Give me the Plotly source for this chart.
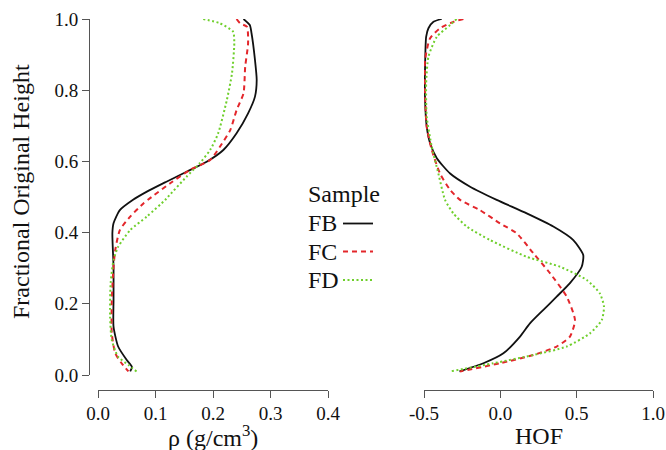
import plotly.graph_objects as go

# Fractional original height (shared vertical coordinate per profile)
# --- Density profiles, rho (g/cm^3) ---
rho_fb_h = [1.0, 0.983, 0.96, 0.885, 0.829, 0.782, 0.735, 0.679, 0.632, 0.599, 0.571, 0.543, 0.515,
            0.492, 0.463, 0.426, 0.398, 0.304, 0.211, 0.136, 0.080, 0.042, 0.023, 0.01]
rho_fb = [0.253, 0.264, 0.267, 0.273, 0.276, 0.273, 0.261, 0.241, 0.218, 0.189, 0.154, 0.119, 0.085,
          0.061, 0.038, 0.027, 0.025, 0.027, 0.027, 0.027, 0.035, 0.050, 0.059, 0.056]

rho_fc_h = [1.0, 0.988, 0.978, 0.932, 0.866, 0.791, 0.744, 0.688, 0.641, 0.604, 0.576, 0.538, 0.496,
            0.482, 0.445, 0.407, 0.351, 0.304, 0.211, 0.117, 0.061, 0.033, 0.01]
rho_fc = [0.241, 0.247, 0.259, 0.261, 0.256, 0.253, 0.241, 0.230, 0.212, 0.195, 0.160, 0.125, 0.090,
          0.079, 0.056, 0.038, 0.030, 0.027, 0.024, 0.024, 0.030, 0.041, 0.053]

rho_fd_h = [1.0, 0.988, 0.964, 0.932, 0.847, 0.772, 0.679, 0.632, 0.595, 0.557, 0.501,
            0.492, 0.445, 0.407, 0.360, 0.323, 0.258, 0.164, 0.098, 0.051, 0.028, 0.01]
rho_fd = [0.183, 0.212, 0.235, 0.237, 0.233, 0.224, 0.209, 0.195, 0.177, 0.154, 0.122,
          0.117, 0.085, 0.056, 0.035, 0.027, 0.022, 0.021, 0.024, 0.035, 0.053, 0.067]

# --- HOF profiles ---
hof_fb_h = [1.0, 0.992, 0.974, 0.950, 0.866, 0.772, 0.697, 0.651, 0.609, 0.566, 0.529, 0.492,
            0.454, 0.417, 0.379, 0.337, 0.304, 0.258, 0.220, 0.183, 0.145, 0.108, 0.061, 0.033, 0.01]
hof_fb = [-0.384, -0.438, -0.471, -0.486, -0.493, -0.493, -0.482, -0.460, -0.416, -0.329, -0.198, -0.024,
          0.173, 0.347, 0.478, 0.543, 0.533, 0.456, 0.369, 0.282, 0.194, 0.129, 0.020, -0.111, -0.268]

hof_fc_h = [1.0, 0.992, 0.974, 0.946, 0.885, 0.791, 0.697, 0.632, 0.566, 0.520, 0.492,
            0.463, 0.426, 0.398, 0.342, 0.286, 0.220, 0.154, 0.108, 0.080, 0.056, 0.033, 0.01]
hof_fc = [-0.242, -0.307, -0.395, -0.460, -0.493, -0.493, -0.482, -0.449, -0.395, -0.329, -0.264,
          -0.133, -0.002, 0.107, 0.216, 0.325, 0.435, 0.489, 0.456, 0.369, 0.216, -0.002, -0.264]

hof_fd_h = [1.0, 0.983, 0.950, 0.894, 0.819, 0.725, 0.641, 0.566, 0.492,
            0.454, 0.417, 0.379, 0.332, 0.304, 0.267, 0.229, 0.192, 0.154, 0.117, 0.080, 0.056, 0.033, 0.01]
hof_fd = [-0.286, -0.329, -0.416, -0.471, -0.486, -0.482, -0.449, -0.406, -0.362,
          -0.308, -0.220, -0.067, 0.173, 0.391, 0.566, 0.652, 0.679, 0.664, 0.587, 0.435, 0.216, -0.046, -0.329]

samples = ["FB", "FC", "FD"]
colors = ["#111111", "#e3262b", "#6fcf2c"]
dashes = ["solid", "5px,4px", "2px,2.5px"]
widths = [1.8, 2.0, 2.0]

rho_x_ticks = [0.0, 0.1, 0.2, 0.3, 0.4]
hof_x_ticks = [-0.5, 0.0, 0.5, 1.0]
hof_x_labels = ["-0.5", "0.0", "0.5", "1.0"]
height_ticks = [0.0, 0.2, 0.4, 0.6, 0.8, 1.0]

FONT = "Liberation Serif, Times New Roman, serif"
AXIS_COLOR = "#555555"
TEXT_COLOR = "#111111"
W, H = 666, 450

fig = go.Figure()

rho_series = [(rho_fb, rho_fb_h), (rho_fc, rho_fc_h), (rho_fd, rho_fd_h)]
hof_series = [(hof_fb, hof_fb_h), (hof_fc, hof_fc_h), (hof_fd, hof_fd_h)]

for i, name in enumerate(samples):
    line = dict(color=colors[i], width=widths[i], dash=dashes[i], shape="spline", smoothing=0.6)
    x, y = rho_series[i]
    fig.add_trace(go.Scatter(x=x, y=y, mode="lines", name=name, line=line,
                             xaxis="x", yaxis="y", showlegend=False))
    x, y = hof_series[i]
    fig.add_trace(go.Scatter(x=x, y=y, mode="lines", name=name, line=line,
                             xaxis="x2", yaxis="y2", showlegend=False))

# plotting regions (pixel edges turned into paper fractions)
left_dom = [98 / W, 328 / W]
right_dom = [424 / W, 653 / W]
y_dom = [1 - 375 / H, 1 - 19 / H]
x_axis_pos = 1 - 389.5 / H
y_axis_pos = 89 / W

common_axis = dict(showgrid=False, zeroline=False, showline=True, linecolor=AXIS_COLOR, linewidth=1,
                   ticks="outside", ticklen=7, tickwidth=1, tickcolor=AXIS_COLOR, automargin=False,
                   tickfont=dict(family=FONT, size=19, color=TEXT_COLOR))

fig.update_layout(
    width=W, height=H,
    margin=dict(l=0, r=0, t=0, b=0),
    paper_bgcolor="white", plot_bgcolor="white",
    showlegend=False,
    xaxis=dict(domain=left_dom, range=[0, 0.4], tickvals=rho_x_ticks, tickformat=".1f",
               anchor="free", position=x_axis_pos, **common_axis),
    yaxis=dict(domain=y_dom, range=[0, 1], tickvals=height_ticks, tickformat=".1f",
               anchor="free", position=y_axis_pos, **common_axis),
    xaxis2=dict(domain=right_dom, range=[-0.5, 1.0], tickvals=hof_x_ticks, ticktext=hof_x_labels,
                anchor="free", position=x_axis_pos, **common_axis),
    yaxis2=dict(domain=y_dom, range=[0, 1], anchor="x2", visible=False, automargin=False),
)

title_font = dict(family=FONT, size=24, color=TEXT_COLOR)
annotations = [
    dict(text="ρ (g/cm<sup>3</sup>)", x=sum(left_dom) / 2, y=1 - 436 / H),
    dict(text="HOF", x=sum(right_dom) / 2, y=1 - 436 / H),
    dict(text="Fractional Original Height", x=21 / W, y=1 - 192 / H, textangle=-90),
]
for a in annotations:
    fig.add_annotation(xref="paper", yref="paper", showarrow=False, font=title_font,
                       xanchor="center", yanchor="middle", **a)

# legend block: title, sample labels and key lines
legend_left = 306 / W
fig.add_annotation(text="Sample", xref="paper", yref="paper", x=legend_left, y=1 - 194 / H,
                   xanchor="left", yanchor="middle", showarrow=False, font=title_font)
row_y = [223.5, 251.5, 280]
for i, name in enumerate(samples):
    yy = 1 - row_y[i] / H
    fig.add_annotation(text=name, xref="paper", yref="paper", x=legend_left, y=yy,
                       xanchor="left", yanchor="middle", showarrow=False, font=title_font)
    fig.add_shape(type="line", xref="paper", yref="paper", x0=343 / W, x1=373 / W, y0=yy, y1=yy,
                  line=dict(color=colors[i], width=widths[i], dash=dashes[i]))

fig.write_html("out.html")
